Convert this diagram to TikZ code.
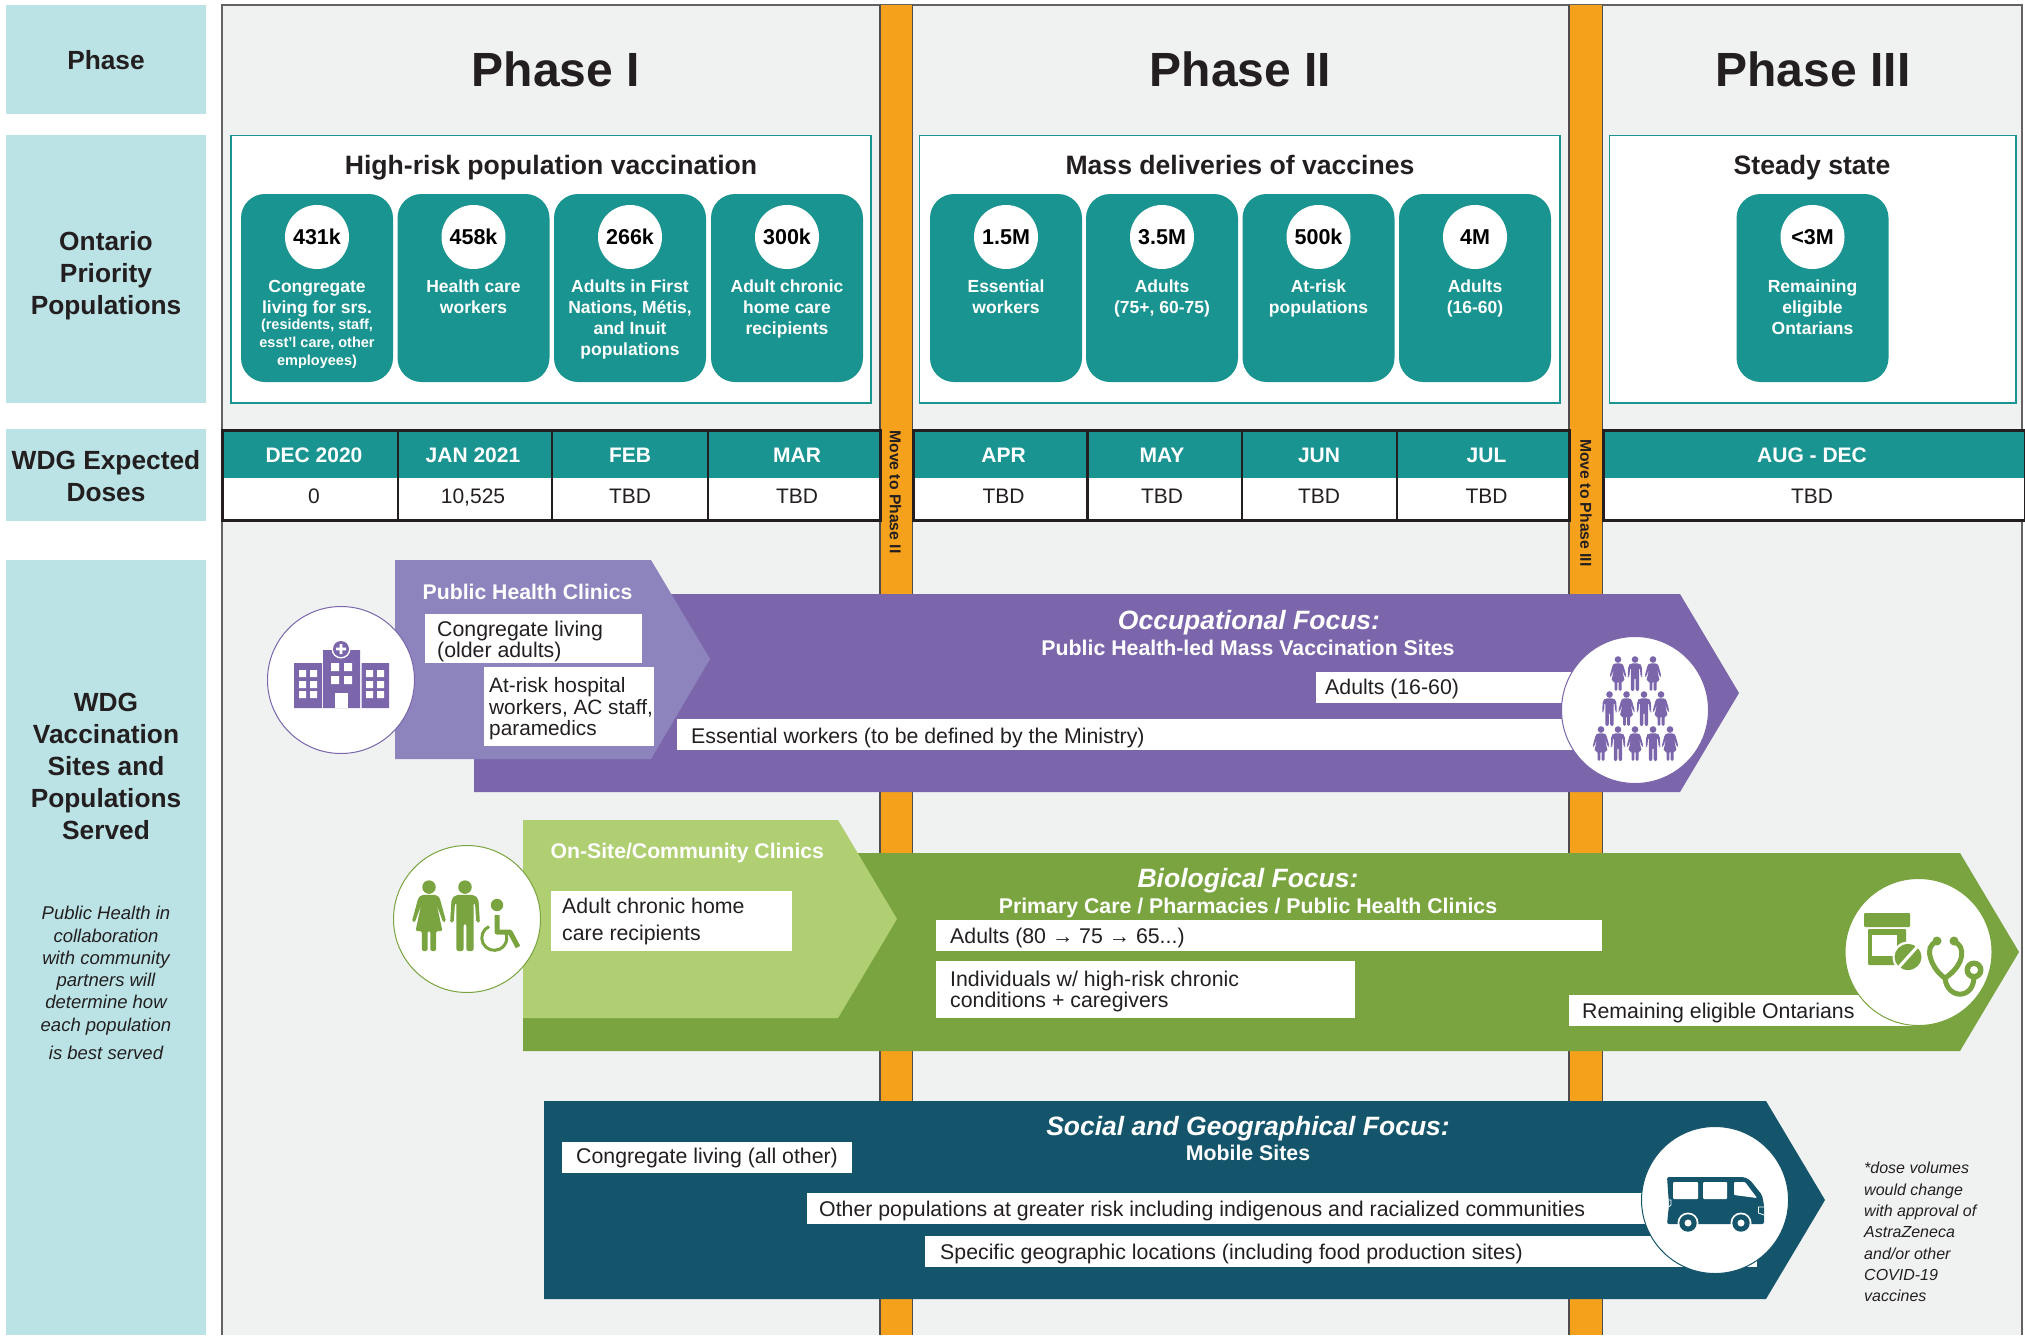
\documentclass[tikz,border=0pt]{standalone}
\usepackage{fontspec}
\setmainfont{Liberation Sans}
\definecolor{ink}{HTML}{231F20}
\definecolor{sidec}{HTML}{BBE3E5}
\definecolor{tealc}{HTML}{1A9490}
\definecolor{panelc}{HTML}{F0F2F1}
\definecolor{orangec}{HTML}{F6A11B}
\definecolor{purpled}{HTML}{7B66AB}
\definecolor{purplel}{HTML}{8E84BD}
\definecolor{greend}{HTML}{7AA43F}
\definecolor{greenl}{HTML}{B0CF73}
\definecolor{navyc}{HTML}{15556B}
\newcommand\fsz[2]{\fontsize{#1}{#2}\selectfont}
\tikzset{
  oneline/.style={text height=#1,text depth=0pt},
  sidebox/.style={fill=sidec,draw=none},
  sidelabel/.style={font=\fsz{26.3}{32}\bfseries,text=ink,align=center,inner sep=0},
  phasetitle/.style={font=\fsz{48}{54}\bfseries,text=ink,inner sep=0,oneline=34.5pt},
  stagebox/.style={fill=white,draw=tealc,line width=1.2},
  stagetitle/.style={font=\fsz{26.6}{30}\bfseries,text=ink,inner sep=0,oneline=19pt},
  cardbox/.style={fill=tealc,draw=none,rounded corners=24,minimum width=152,minimum height=188,inner sep=0},
  valcirc/.style={circle,fill=white,minimum size=64,inner sep=0,font=\fsz{21.5}{24}\bfseries,text=black,oneline=15.5pt},
  cardtext/.style={font=\fsz{17.5}{21}\bfseries,text=white,align=center,inner sep=0},
  cardsub/.style={font=\fsz{14.5}{18}\bfseries,text=white,align=center,inner sep=0},
  headcell/.style={font=\fsz{21}{24}\bfseries,text=white,inner sep=0,oneline=15pt},
  valcell/.style={font=\fsz{21}{24},text=ink,inner sep=0,oneline=15pt},
  gridline/.style={draw=ink,line width=3},
  movetxt/.style={rotate=-90,font=\fsz{15.7}{18}\bfseries,text=ink,inner sep=0,oneline=11.3pt},
  whitebar/.style={fill=white,draw=none},
  bartext/.style={font=\fsz{21.3}{21},text=ink,align=left,inner sep=0,anchor=west},
  barline/.style={bartext,oneline=15.3pt},
  focustitle/.style={font=\fsz{26.5}{30}\bfseries\itshape,text=white,inner sep=0,oneline=19pt},
  focussub/.style={font=\fsz{21.3}{26}\bfseries,text=white,inner sep=0,oneline=15.3pt},
  clinictitle/.style={font=\fsz{21.2}{26}\bfseries,text=white,inner sep=0,anchor=west,oneline=15.3pt},
  iconcirc/.style={circle,fill=white,draw=#1,line width=1,minimum size=147,inner sep=0},
  man/.pic={\begin{scope}[yscale=-1]
    \fill (0,90) circle (9.5);
    \fill[rounded corners=2] (-13,79) -- (13,79) -- (19,73) -- (21,40) -- (16,40) -- (14,68) -- (12,68) -- (12,0) -- (2,0) -- (2,38) -- (-2,38) -- (-2,0) -- (-12,0) -- (-12,68) -- (-14,68) -- (-16,40) -- (-21,40) -- (-19,73) -- cycle;
  \end{scope}},
  woman/.pic={\begin{scope}[yscale=-1]
    \fill (0,90) circle (9.5);
    \fill[rounded corners=1.5] (-10,79) -- (10,79) -- (15,75) -- (24,42) -- (20,40) -- (11,65) -- (19,28) -- (10,28) -- (10,0) -- (2,0) -- (2,28) -- (-2,28) -- (-2,0) -- (-10,0) -- (-10,28) -- (-19,28) -- (-11,65) -- (-20,40) -- (-24,42) -- (-15,75) -- cycle;
  \end{scope}},
}
\newcommand\popcard[5]{%
  \node[cardbox] (card#1) at (#2,288) {};
  \node[valcirc] (val#1) at (#2,237) {#3};
  \node[cardtext] (txt#1) at (#2,#5) {\strut#4\strut};}
\begin{document}
\begin{tikzpicture}[x=1pt,y=-1pt]
\useasboundingbox (0,0) rectangle (2025,1335);
\fill[white] (0,0) rectangle (2025,1335);
% left column
\fill[sidebox] (6,5) rectangle (206,114);
\fill[sidebox] (6,135) rectangle (206,403);
\fill[sidebox] (6,429) rectangle (206,521);
\fill[sidebox] (6,560) rectangle (206,1335);
\node[sidelabel] (lPhase) at (106,60) {Phase};
\node[sidelabel] (lOntario) at (106,275.5) {Ontario\\Priority\\Populations};
\node[sidelabel] (lDoses) at (106,476) {WDG Expected\\Doses};
\node[sidelabel] (lSites) at (106,766) {WDG\\Vaccination\\Sites and\\Populations\\Served};
\node[font=\fsz{18.5}{22.3}\itshape,text=ink,align=center,inner sep=0] (lNote) at (106,983)
  {Public Health in\\collaboration\\with community\\partners will\\determine how\\each population\\[6pt]is best served};
% main panel
\fill[panelc] (222,5) rectangle (2022,1335);
\draw[draw=ink!70,line width=1.5] (222,1335) -- (222,5) -- (2022,5) -- (2022,1335);
% orange bars
\foreach \a/\b in {880/912.5,1569/1602.5}{
  \fill[orangec] (\a,5) rectangle (\b,1335);
  \draw[draw=ink!80,line width=1.3] (\a,5) -- (\a,1335) (\b,5) -- (\b,1335);
}
% phase headings
\node[phasetitle] (p1) at (556,69) {Phase I};
\node[phasetitle] (p2) at (1240.5,69) {Phase II};
\node[phasetitle] (p3) at (1813,69) {Phase III};
% stage boxes
\draw[stagebox] (231,135.5) rectangle (871,403);
\draw[stagebox] (919.5,135.5) rectangle (1560,403);
\draw[stagebox] (1609.5,135.5) rectangle (2016,403);
\node[stagetitle] (s1) at (551,164.5) {High-risk population vaccination};
\node[stagetitle] (s2) at (1240,164.5) {Mass deliveries of vaccines};
\node[stagetitle] (s3) at (1812,164.5) {Steady state};
% cards
\popcard{a}{317}{431k}{Congregate\\living for srs.}{299}
\node[cardsub] (suba) at (317,344) {(residents, staff,\\esst’l care, other\\employees)};
\popcard{b}{473.5}{458k}{Health care\\workers}{299}
\popcard{c}{630}{266k}{Adults in First\\Nations, Métis,\\and Inuit\\populations}{320}
\popcard{d}{787}{300k}{Adult chronic\\home care\\recipients}{309.5}
\popcard{e}{1006}{1.5M}{Essential\\workers}{299}
\popcard{f}{1162}{3.5M}{Adults\\(75+, 60-75)}{299}
\popcard{g}{1318.5}{500k}{At-risk\\populations}{299}
\popcard{h}{1475}{4M}{Adults\\(16-60)}{299}
\popcard{i}{1812.5}{<3M}{Remaining\\eligible\\Ontarians}{309.5}
% tables
\foreach \a/\b in {222/880,913/1569,1603/2025}{
  \fill[white] (\a,477.5) rectangle (\b,520);
  \fill[tealc] (\a,430) rectangle (\b,477.5);
  \draw[gridline] (\a,430) rectangle (\b,520);
}
\foreach \x in {398,552,708,1087.5,1242,1397}{\draw[gridline,line width=2.2] (\x,430) -- (\x,520);}
\node[headcell] (h1) at (314,454.5) {DEC 2020};
\node[headcell] (h2) at (473,454.5) {JAN 2021};
\node[headcell] (h3) at (630,454.5) {FEB};
\node[headcell] (h4) at (797,454.5) {MAR};
\node[headcell] (h5) at (1003.5,454.5) {APR};
\node[headcell] (h6) at (1162,454.5) {MAY};
\node[headcell] (h7) at (1319,454.5) {JUN};
\node[headcell] (h8) at (1486.5,454.5) {JUL};
\node[headcell] (h9) at (1812,454.5) {AUG - DEC};
\node[valcell] (v1) at (314,496) {0};
\node[valcell] (v2) at (473,496) {10,525};
\node[valcell] (v3) at (630,496) {TBD};
\node[valcell] (v4) at (797,496) {TBD};
\node[valcell] (v5) at (1003.5,496) {TBD};
\node[valcell] (v6) at (1162,496) {TBD};
\node[valcell] (v7) at (1319,496) {TBD};
\node[valcell] (v8) at (1486.5,496) {TBD};
\node[valcell] (v9) at (1812,496) {TBD};
\node[movetxt] (m1) at (895.5,492) {Move to Phase II};
\node[movetxt] (m2) at (1586,503) {Move to Phase III};
% occupational arrow
\fill[purpled] (474,594) -- (1680,594) -- (1739,693) -- (1680,792) -- (474,792) -- cycle;
\fill[purplel] (395,560) -- (651,560) -- (710,659) -- (651,759) -- (395,759) -- cycle;
\node[iconcirc=purpled] (cHosp) at (341,680) {};
\node[clinictitle] (t1) at (422.5,592) {Public Health Clinics};
\fill[whitebar] (425,614) rectangle (642,663);
\node[bartext] (b1) at (437,641) {Congregate living\\(older adults)};
\fill[whitebar] (484,667) rectangle (654,746);
\node[bartext,font=\fsz{20.8}{21.5}] (b2) at (489,709) {At-risk hospital\\workers, AC staff,\\paramedics};
\node[focustitle] (f1) at (1249,620) {Occupational Focus:};
\node[focussub] (f1s) at (1248,648) {Public Health-led Mass Vaccination Sites};
\fill[whitebar] (1316,672) rectangle (1620,703);
\node[barline] (b3) at (1325,687) {Adults (16-60)};
\fill[whitebar] (677,719) rectangle (1620,750);
\node[barline] (b4) at (691,736) {Essential workers (to be defined by the Ministry)};
\node[iconcirc=purpled] (cCrowd) at (1635,710) {};
% hospital icon
\begin{scope}
  \fill[purpled] (294,663) rectangle (322,708) (323,650) rectangle (360,708) (361.5,663) rectangle (389,708);
  \fill[white] (341,649) circle (9.5);
  \fill[purpled] (341,649) circle (8);
  \fill[white] (339.7,644) rectangle (342.3,654) (336,647.7) rectangle (346,650.3);
  \foreach \y in {670,681,691}{\fill[white] (299,\y) rectangle +(7,7) (310,\y) rectangle +(7,7) (366,\y) rectangle +(7,7) (377,\y) rectangle +(7,7);}
  \foreach \y in {663,676}{\fill[white] (331,\y) rectangle +(8,8) (344,\y) rectangle +(8,8);}
  \fill[white] (335,693) rectangle (348,708);
\end{scope}
% crowd icon
\begin{scope}[purpled,fill=purpled]
  \pic[scale=.35,fill=purpled] at (1618,691) {woman};
  \pic[scale=.35,fill=purpled] at (1635,691) {man};
  \pic[scale=.35,fill=purpled] at (1653,691) {woman};
  \pic[scale=.35,fill=purpled] at (1609.5,726) {man};
  \pic[scale=.35,fill=purpled] at (1626.5,726) {woman};
  \pic[scale=.35,fill=purpled] at (1644,726) {man};
  \pic[scale=.35,fill=purpled] at (1661,726) {woman};
  \pic[scale=.35,fill=purpled] at (1601,761) {woman};
  \pic[scale=.35,fill=purpled] at (1618,761) {man};
  \pic[scale=.35,fill=purpled] at (1635,761) {woman};
  \pic[scale=.35,fill=purpled] at (1653,761) {man};
  \pic[scale=.35,fill=purpled] at (1670,761) {woman};
\end{scope}
% biological arrow
\fill[greend] (523,853) -- (1960,853) -- (2019,952) -- (1960,1051) -- (523,1051) -- cycle;
\fill[greenl] (523,820) -- (838,820) -- (897,919) -- (838,1018) -- (523,1018) -- cycle;
\node[iconcirc=greend] (cPeople) at (467,919) {};
\node[clinictitle] (t2) at (550.5,851) {On-Site/Community Clinics};
\fill[whitebar] (551,891) rectangle (792,951);
\node[bartext,font=\fsz{21.3}{26.5}] (b5) at (562,921.5) {Adult chronic home\\care recipients};
\node[focustitle] (f2) at (1248,878) {Biological Focus:};
\node[focussub] (f2s) at (1248,906) {Primary Care / Pharmacies / Public Health Clinics};
\fill[whitebar] (936,920) rectangle (1602,951);
\node[barline] (b6) at (950,936) {Adults (80 → 75 → 65...)};
\fill[whitebar] (936,961) rectangle (1355,1018);
\node[bartext] (b7) at (950,991.5) {Individuals w/ high-risk chronic\\conditions + caregivers};
\fill[whitebar] (1569,995) rectangle (1918,1026);
\node[barline] (b8) at (1582,1011) {Remaining eligible Ontarians};
\node[iconcirc=greend] (cMed) at (1918.5,952) {};
% people icon
\pic[scale=.71,fill=greend] at (429,951) {woman};
\pic[scale=.71,fill=greend] at (465,951) {man};
\fill[greend] (497,905) circle (6.2);
\draw[greend,line width=5,line join=round] (497,915) -- (497,932) -- (510,932) -- (518,947);
\draw[greend,line width=3] (489,926.5) arc[start angle=245,end angle=-30,radius=12.5] ;
% medicine icon
\fill[greend,rounded corners=1] (1864,913) rectangle (1910,927);
\fill[greend,rounded corners=1] (1868,929) rectangle (1906,965);
\fill[white] (1872,935) rectangle (1897,956);
\fill[white] (1908,957) circle (15.5);
\fill[greend] (1908,957) ellipse[x radius=13.5,y radius=13];
\draw[white,line width=3] (1899,967) -- (1917,947);
\draw[greend,line width=5,line cap=round] (1937,942) .. controls (1922,945) and (1932,970) .. (1945,978);
\draw[greend,line width=5,line cap=round] (1954,942) .. controls (1966,945) and (1965,965) .. (1945,978);
\draw[greend,line width=5] (1945,978) .. controls (1947,1000) and (1975,1000) .. (1974,975);
\fill[greend] (1974,970) circle (9.5);
\fill[white] (1974,970) circle (4);
\fill[greend] (1937,941) circle (4.5) (1954,941) circle (4.5);
% social arrow
\fill[navyc] (544,1101) -- (1766,1101) -- (1825,1200) -- (1766,1299) -- (544,1299) -- cycle;
\node[focustitle] (f3) at (1248,1126) {Social and Geographical Focus:};
\node[focussub] (f3s) at (1248,1153) {Mobile Sites};
\fill[whitebar] (562,1142) rectangle (852,1173);
\node[barline] (b9) at (576,1156) {Congregate living (all other)};
\fill[whitebar] (807,1193) rectangle (1680,1224);
\node[barline] (b10) at (819,1209) {Other populations at greater risk including indigenous and racialized communities};
\fill[whitebar] (925,1236) rectangle (1757,1267);
\node[barline] (b11) at (940,1251.5) {Specific geographic locations (including food production sites)};
\node[iconcirc=navyc] (cVan) at (1715,1200) {};
% van icon
\fill[navyc,rounded corners=2] (1667,1177) -- (1744,1177) -- (1750,1180) -- (1762,1195) -- (1764,1205) -- (1764,1224) -- (1667,1224) -- (1669,1205) -- cycle;
\fill[white,rounded corners=1] (1673,1182) rectangle (1698,1199) (1703,1182) rectangle (1727,1199);
\fill[white,rounded corners=1] (1734,1182) -- (1745,1182) -- (1757,1198) -- (1734,1195) -- cycle;
\draw[white,line width=.8] (1764,1207) -- (1758.5,1207) -- (1758.5,1213) -- (1764,1215);
\draw[white,line width=.8] (1668,1200) -- (1671,1200) -- (1671,1205) -- (1668.5,1207);
\foreach \x in {1688,1741}{
  \fill[white] (\x,1223) circle (10.5);
  \fill[navyc] (\x,1223) circle (8.7);
  \fill[white] (\x,1223) circle (3.5);
}
% footnote
\node[font=\fsz{16}{21.35}\itshape,text=ink,align=left,inner sep=0,anchor=west] (note) at (1864,1232)
  {*dose volumes\\would change\\with approval of\\AstraZeneca\\and/or other\\COVID-19\\vaccines};
\end{tikzpicture}
\end{document}
